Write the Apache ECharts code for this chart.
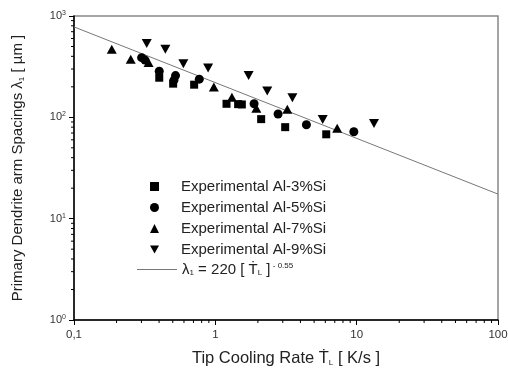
<!DOCTYPE html>
<html><head><meta charset="utf-8">
<script src="https://cdn.jsdelivr.net/npm/echarts@6/dist/echarts.min.js"></script>
<style>html,body{margin:0;padding:0;background:#fff}#c{width:508px;height:369px}</style>
</head><body><div id="c"></div>
<script>
// ---- data ----
const seriesNames = ['Experimental Al-3%Si','Experimental Al-5%Si','Experimental Al-7%Si','Experimental Al-9%Si','fit'];
const al3 = [[0.401,246],[0.503,215],[0.708,210],[1.20,136],[1.45,135],[1.54,134],[2.11,96],[3.12,80],[6.09,68]];
const al5 = [[0.301,388],[0.318,367],[0.401,285],[0.523,258],[0.510,233],[0.770,238],[1.88,136],[2.78,108],[4.41,84.5],[9.55,72]];
const al7 = [[0.185,471],[0.252,375],[0.337,348],[0.976,199],[1.31,158],[1.95,123],[3.23,120],[7.28,78]];
const al9 = [[0.327,534],[0.443,471],[0.594,337],[0.889,306],[1.72,258],[2.33,182],[3.51,156],[5.75,95],[13.26,87]];
const fitCoef = 220, fitExp = -0.55;
const fitX = [0.1, 100];
const xTicks = [0.1, 1, 10, 100];
const xTickLabels = ['0,1', '1', '10', '100'];
const yTicks = [1, 10, 100, 1000];
const yTickExps = ['0', '1', '2', '3'];
const xMinorTicks = [0.2,0.3,0.4,0.5,0.6,0.7,0.8,0.9,2,3,4,5,6,7,8,9,20,30,40,50,60,70,80,90];
const yMinorTicks = [2,3,4,5,6,7,8,9,20,30,40,50,60,70,80,90,200,300,400,500,600,700,800,900];

const FONT = "'Liberation Sans', Arial, sans-serif";
const chart = echarts.init(document.getElementById('c'), null, {renderer: 'canvas'});
const fitData = fitX.map(x => [x, fitCoef * Math.pow(x, fitExp)]);

function tickSeries(vals, isX) {
  return {
    type: 'custom', silent: true, clip: false, z: 5,
    data: vals.map(v => isX ? [v, 1] : [0.1, v]),
    renderItem: function (params, api) {
      const p = api.coord([api.value(0), api.value(1)]);
      const shape = isX ? {x1: p[0], y1: p[1], x2: p[0], y2: p[1] + 3}
                        : {x1: p[0] - 3, y1: p[1], x2: p[0], y2: p[1]};
      return {type: 'line', shape: shape, style: {stroke: '#000', lineWidth: 1}};
    }
  };
}

const markerStyle = {color: '#000', opacity: 1};
const legendRich = {
  t: {fontFamily: FONT, fontSize: 15, color: '#222', lineHeight: 15},
  tp: {fontFamily: FONT, fontSize: 15, color: '#222', lineHeight: 15, padding: [0, 0, 0, 17]},
  sub: {fontFamily: FONT, fontSize: 8, color: '#222', verticalAlign: 'bottom', lineHeight: 8, padding: [6, 0, 0, 0]},
  sup: {fontFamily: FONT, fontSize: 8, color: '#222', verticalAlign: 'top', lineHeight: 8, padding: [0, 0, 7, 0]}
};
chart.setOption({
  animation: false,
  textStyle: {fontFamily: FONT},
  grid: {left: 74, right: 10, top: 16, bottom: 49, show: true, borderColor: '#888', borderWidth: 1.5,
         backgroundColor: 'transparent', containLabel: false, outerBoundsMode: 'none'},
  legend: [{
    orient: 'vertical', left: 150, top: 179, padding: 0, itemWidth: 9, itemHeight: 9, itemGap: 6,
    data: [
      {name: seriesNames[0], icon: 'rect'},
      {name: seriesNames[1], icon: 'circle'},
      {name: seriesNames[2], icon: 'triangle'},
      {name: seriesNames[3], icon: 'path://M0,0 L10,0 L5,9 Z'}
    ],
    formatter: function (n) { return '{tp|' + n + '}'; },
    textStyle: {fontFamily: FONT, fontSize: 15, color: '#222', rich: legendRich}
  }, {
    orient: 'vertical', left: 137, top: 262, padding: 0, itemWidth: 40, itemHeight: 1,
    data: [{name: seriesNames[4], icon: 'path://M0,0 L40,0 L40,1 L0,1 Z'}],
    formatter: function () { return '{t|λ}{sub|1}{t| = 220 [ Ṫ}{sub|L}{t| ]}{sup| - 0.55}'; },
    textStyle: {fontFamily: FONT, fontSize: 15, color: '#222', rich: legendRich}
  }],
  xAxis: {
    type: 'log', logBase: 10, min: 0.1, max: 100,
    name: '{t|Tip Cooling Rate Ṫ}{sub|L}{t| [ K/s ]}',
    nameLocation: 'middle', nameGap: 30,
    nameTextStyle: {
      rich: {
        t: {fontFamily: FONT, fontSize: 16.5, color: '#222'},
        sub: {fontFamily: FONT, fontSize: 8, color: '#222', verticalAlign: 'bottom', padding: [9, 0, 0, 0]}
      }
    },
    axisLine: {lineStyle: {color: '#000', width: 1.5}},
    axisTick: {length: 5, lineStyle: {color: '#000'}},
    splitLine: {show: false},
    axisLabel: {
      fontFamily: FONT, fontSize: 11.5, color: '#333', margin: 9,
      formatter: function (v) {
        const i = xTicks.findIndex(t => Math.abs(t - v) / t < 1e-6);
        return i >= 0 ? xTickLabels[i] : '';
      }
    }
  },
  yAxis: {
    type: 'log', logBase: 10, min: 1, max: 1000,
    name: '{t|Primary Dendrite arm Spacings λ}{sub|1}{t| [ µm ]}',
    nameLocation: 'middle', nameGap: 48, nameRotate: 90,
    nameTextStyle: {
      rich: {
        t: {fontFamily: FONT, fontSize: 15, color: '#222'},
        sub: {fontFamily: FONT, fontSize: 8, color: '#222', verticalAlign: 'bottom', padding: [8, 0, 0, 0]}
      }
    },
    axisLine: {show: true, lineStyle: {color: '#000', width: 1.5}},
    axisTick: {show: true, length: 5, lineStyle: {color: '#000'}},
    splitLine: {show: false},
    axisLabel: {
      margin: 8,
      formatter: function (v) {
        const i = yTicks.findIndex(t => Math.abs(t - v) / t < 1e-6);
        return i >= 0 ? '{b|10}{e|' + yTickExps[i] + '}' : '';
      },
      rich: {
        b: {fontFamily: FONT, fontSize: 11, color: '#333'},
        e: {fontFamily: FONT, fontSize: 7, color: '#333', verticalAlign: 'top', padding: [0, 0, 6, 0]}
      }
    }
  },
  series: [
    {name: seriesNames[0], type: 'scatter', data: al3, symbol: 'rect', symbolSize: 8, itemStyle: markerStyle, z: 3},
    {name: seriesNames[1], type: 'scatter', data: al5, symbol: 'circle', symbolSize: 9, itemStyle: markerStyle, z: 3},
    {name: seriesNames[2], type: 'scatter', data: al7, symbol: 'triangle', symbolSize: [10, 9], itemStyle: markerStyle, z: 3},
    {name: seriesNames[3], type: 'scatter', data: al9, symbol: 'triangle', symbolRotate: 180, symbolSize: [10, 9], itemStyle: markerStyle, z: 3},
    {name: seriesNames[4], type: 'line', data: fitData, symbol: 'none', showSymbol: false,
     lineStyle: {color: '#777', width: 1}, itemStyle: {color: '#777'}, z: 2},
    tickSeries(xMinorTicks, true),
    tickSeries(yMinorTicks, false)
  ]
});
</script></body></html>
